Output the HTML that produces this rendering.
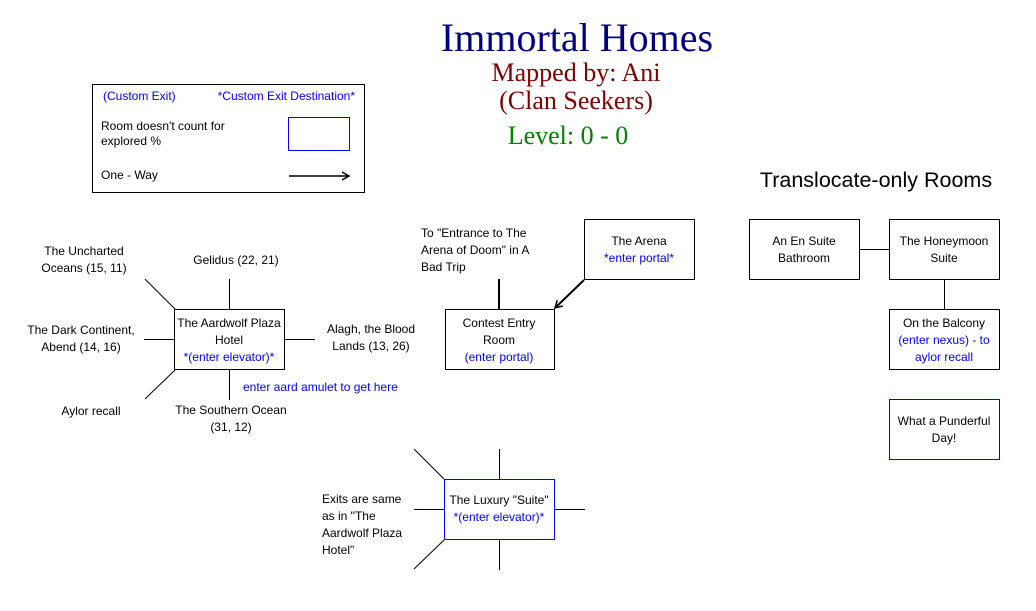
<!DOCTYPE html>
<html><head><meta charset="utf-8">
<style>
html,body{margin:0;padding:0;background:#fff;}
svg{display:block;}
.t{font-family:"Liberation Sans",sans-serif;font-size:12px;fill:#000;}
.b{fill:#0000ff;}
.s{font-family:"Liberation Serif",serif;}
</style></head><body>
<svg width="1036" height="611" viewBox="0 0 1036 611" xmlns="http://www.w3.org/2000/svg">
<defs><marker id="ah" markerWidth="10" markerHeight="10" refX="8" refY="5" orient="auto" markerUnits="userSpaceOnUse"><path d="M1,1 L8,5 L1,9" fill="none" stroke="#000" stroke-width="1.5"/></marker></defs>
<text x="577" y="51" text-anchor="middle" class="s" font-size="40" fill="#000080">Immortal Homes</text>
<text x="576" y="81" text-anchor="middle" class="s" font-size="26" fill="#800000">Mapped by: Ani</text>
<text x="576" y="109" text-anchor="middle" class="s" font-size="26" fill="#800000">(Clan Seekers)</text>
<text x="568" y="144" text-anchor="middle" class="s" font-size="26" fill="#008000">Level: 0 - 0</text>
<rect x="92.5" y="84.5" width="272" height="108" fill="none" stroke="#000"/>
<text x="103" y="100" class="t b">(Custom Exit)</text>
<text x="355" y="100" class="t b" text-anchor="end">*Custom Exit Destination*</text>
<text x="101" y="130" class="t">Room doesn't count for</text>
<text x="101" y="145" class="t">explored %</text>
<rect x="288.5" y="117.5" width="61" height="33" fill="none" stroke="#0000ff"/>
<text x="101" y="179" class="t">One - Way</text>
<line x1="289" y1="176" x2="349" y2="176" stroke="#000" stroke-width="1.5" marker-end="url(#ah)"/>
<text x="876" y="187" text-anchor="middle" font-family="Liberation Sans,sans-serif" font-size="21.5" fill="#000">Translocate-only Rooms</text>
<g stroke="#000" fill="none">
<rect x="749.5" y="219.5" width="110" height="60"/>
<rect x="889.5" y="219.5" width="110" height="60"/>
<rect x="889.5" y="309.5" width="110" height="60"/>
<line x1="860" y1="249.5" x2="889" y2="249.5"/>
<line x1="944.5" y1="280" x2="944.5" y2="309"/>
</g>
<rect x="889.5" y="399.5" width="110" height="60" fill="none" stroke="#0000ff"/>
<text x="804" y="245" class="t" text-anchor="middle">An En Suite</text>
<text x="804" y="262" class="t" text-anchor="middle">Bathroom</text>
<text x="944" y="245" class="t" text-anchor="middle">The Honeymoon</text>
<text x="944" y="262" class="t" text-anchor="middle">Suite</text>
<text x="944" y="327" class="t" text-anchor="middle">On the Balcony</text>
<text x="944" y="344" class="t b" text-anchor="middle">(enter nexus) - to</text>
<text x="944" y="361" class="t b" text-anchor="middle">aylor recall</text>
<text x="944" y="425" class="t" text-anchor="middle">What a Punderful</text>
<text x="944" y="442" class="t" text-anchor="middle">Day!</text>
<g stroke="#000" fill="none">
<rect x="445.5" y="309.5" width="109" height="60"/>
<rect x="584.5" y="219.5" width="110" height="60"/>
<line x1="499" y1="279" x2="499" y2="309" stroke-width="2"/>
</g>
<line x1="584" y1="280" x2="555" y2="308" stroke="#000" stroke-width="2" marker-end="url(#ah)"/>
<text x="421" y="237" class="t">To "Entrance to The</text>
<text x="421" y="254" class="t">Arena of Doom" in A</text>
<text x="421" y="271" class="t">Bad Trip</text>
<text x="639" y="245" class="t" text-anchor="middle">The Arena</text>
<text x="639" y="262" class="t b" text-anchor="middle">*enter portal*</text>
<text x="499" y="327" class="t" text-anchor="middle">Contest Entry</text>
<text x="499" y="344" class="t" text-anchor="middle">Room</text>
<text x="499" y="361" class="t b" text-anchor="middle">(enter portal)</text>
<g stroke="#000" fill="none">
<rect x="174.5" y="309.5" width="110" height="60"/>
<line x1="145" y1="279" x2="175" y2="309"/>
<line x1="229.5" y1="279" x2="229.5" y2="309"/>
<line x1="144" y1="339.5" x2="175" y2="339.5"/>
<line x1="285" y1="339.5" x2="315" y2="339.5"/>
<line x1="229.5" y1="370" x2="229.5" y2="400"/>
<line x1="175" y1="370" x2="145" y2="399"/>
</g>
<text x="229" y="327" class="t" text-anchor="middle">The Aardwolf Plaza</text>
<text x="229" y="344" class="t" text-anchor="middle">Hotel</text>
<text x="229" y="361" class="t b" text-anchor="middle">*(enter elevator)*</text>
<text x="84" y="255" class="t" text-anchor="middle">The Uncharted</text>
<text x="84" y="272" class="t" text-anchor="middle">Oceans (15, 11)</text>
<text x="236" y="264" class="t" text-anchor="middle">Gelidus (22, 21)</text>
<text x="81" y="334" class="t" text-anchor="middle">The Dark Continent,</text>
<text x="81" y="351" class="t" text-anchor="middle">Abend (14, 16)</text>
<text x="371" y="333" class="t" text-anchor="middle">Alagh, the Blood</text>
<text x="371" y="350" class="t" text-anchor="middle">Lands (13, 26)</text>
<text x="243" y="391" class="t b">enter aard amulet to get here</text>
<text x="91" y="415" class="t" text-anchor="middle">Aylor recall</text>
<text x="231" y="414" class="t" text-anchor="middle">The Southern Ocean</text>
<text x="231" y="431" class="t" text-anchor="middle">(31, 12)</text>
<g stroke="#000" fill="none">
<line x1="414" y1="449" x2="444" y2="479"/>
<line x1="499.5" y1="449" x2="499.5" y2="479"/>
<line x1="414" y1="509.5" x2="444" y2="509.5"/>
<line x1="555" y1="509.5" x2="585" y2="509.5"/>
<line x1="499.5" y1="540" x2="499.5" y2="570"/>
<line x1="444" y1="540" x2="414" y2="569"/>
</g>
<rect x="444.5" y="479.5" width="110" height="60" fill="none" stroke="#0000ff"/>
<text x="499" y="504" class="t" text-anchor="middle">The Luxury "Suite"</text>
<text x="499" y="521" class="t b" text-anchor="middle">*(enter elevator)*</text>
<text x="322" y="503" class="t">Exits are same</text>
<text x="322" y="520" class="t">as in "The</text>
<text x="322" y="537" class="t">Aardwolf Plaza</text>
<text x="322" y="554" class="t">Hotel"</text>
</svg>
</body></html>
